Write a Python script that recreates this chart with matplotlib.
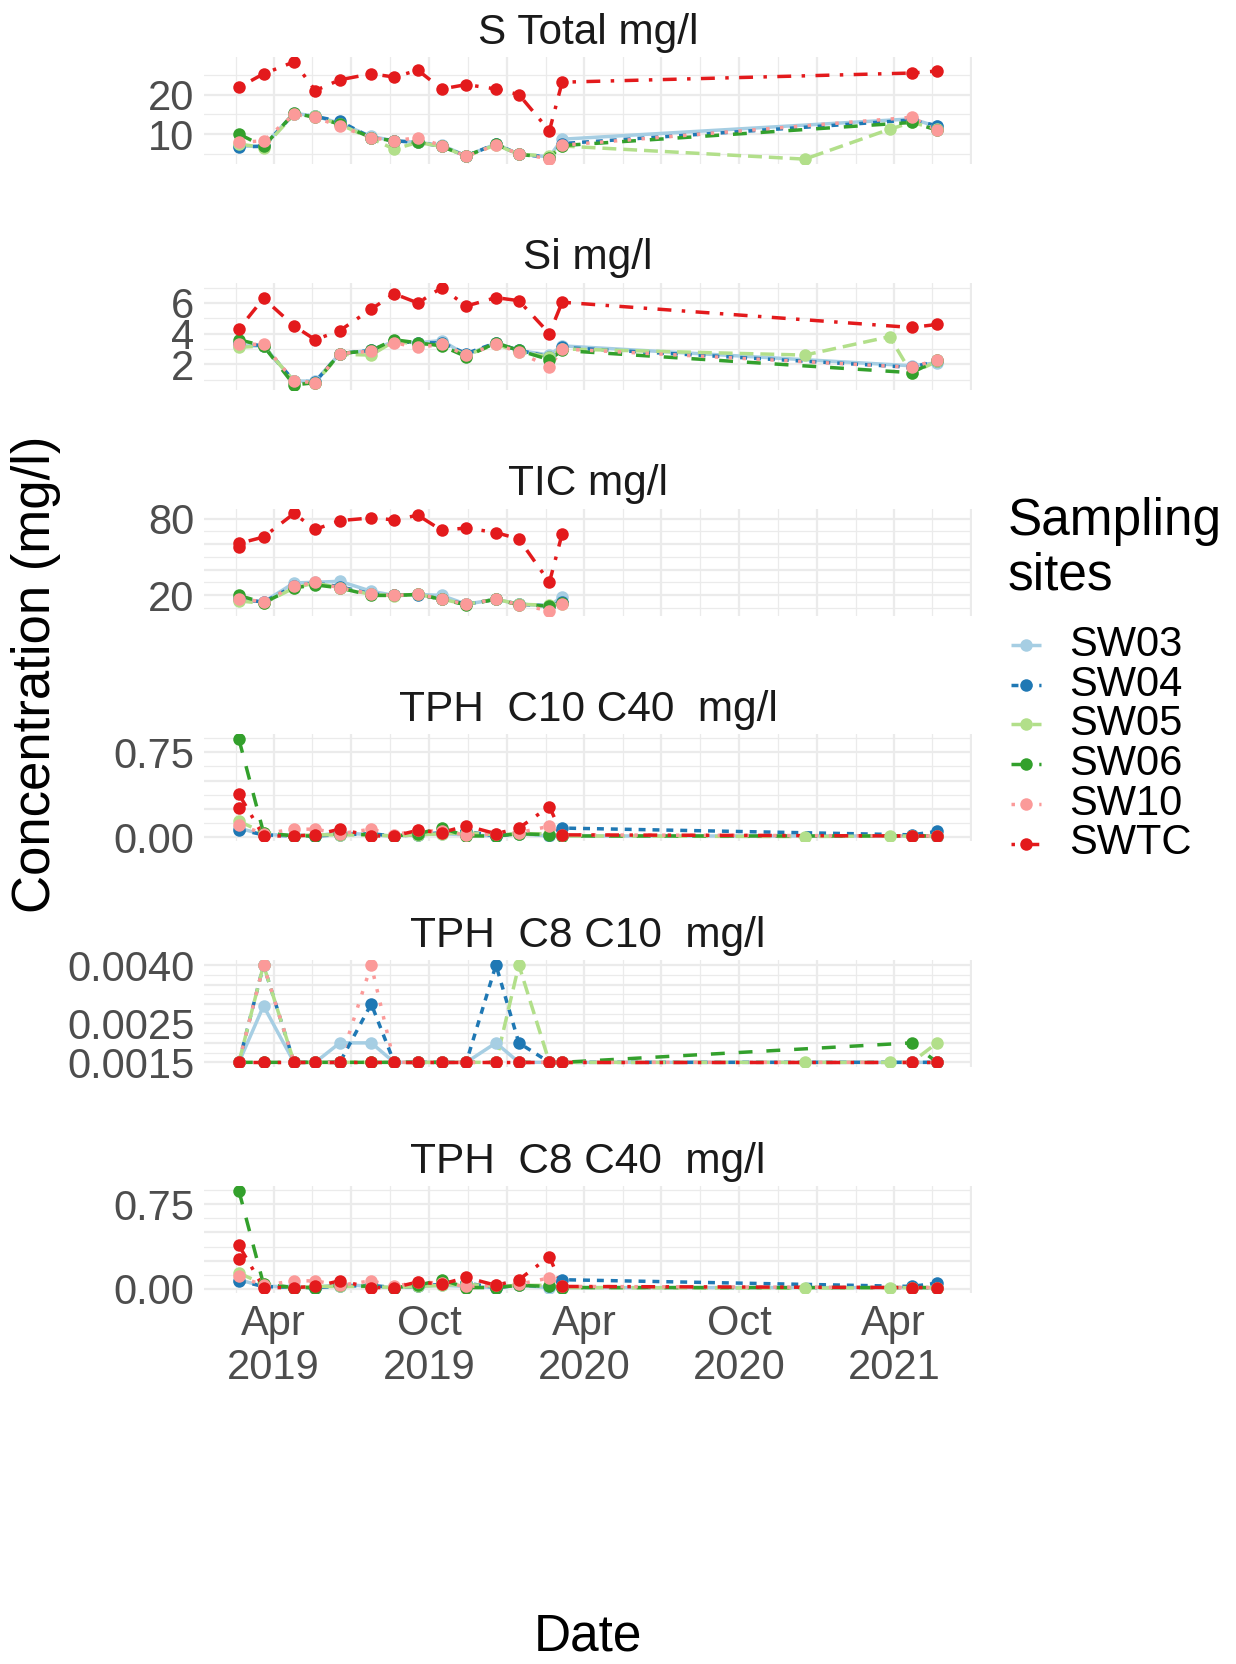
import numpy as np
import pandas as pd
import matplotlib
matplotlib.use('Agg')
import matplotlib.pyplot as plt
import matplotlib.dates as mdates
from matplotlib.lines import Line2D

plt.rcParams['font.family'] = ['Liberation Sans', 'DejaVu Sans']

# sampling dates (shared by all sites, None where a site was not sampled)
dates = pd.to_datetime([
    '2019-02-19', '2019-03-20', '2019-04-25', '2019-05-20', '2019-06-18',
    '2019-07-25', '2019-08-21', '2019-09-18', '2019-10-16', '2019-11-14',
    '2019-12-19', '2020-01-15', '2020-02-20', '2020-03-06', '2020-12-17',
    '2021-03-27', '2021-04-22', '2021-05-22'])

sites = ['SW03', 'SW04', 'SW05', 'SW06', 'SW10', 'SWTC']
colors = ['#A6CEE3', '#1F78B4', '#B2DF8A', '#33A02C', '#FB9A99', '#E31A1C']
dashes = [None, (2, 2), (4, 2), (4, 4), (1, 3), (1, 3, 4, 3)]

N = None

s_total = {
    'SW03': [7.0, 7.1, 15.3, 14.6, 12.8, 9.5, 8.4, 8.0, 7.3, 4.6, 7.6, 5.0, 4.4, 8.8, N, N, 13.9, 12.0],
    'SW04': [6.9, 7.0, 15.2, 14.5, 13.3, 9.2, 8.4, 8.0, 7.0, 4.6, 7.6, 5.0, 4.3, 7.7, N, N, 13.6, 12.2],
    'SW05': [7.6, 6.7, 15.0, 14.5, 12.5, 9.0, 6.3, 8.0, 7.0, 4.5, 7.4, 5.0, 4.6, 7.1, 3.8, 11.3, 13.0, 11.4],
    'SW06': [10.1, 7.0, 15.3, 14.3, 12.6, 9.2, 8.4, 8.0, 7.0, 4.6, 7.6, 5.0, 4.2, 7.2, N, N, 13.0, 11.1],
    'SW10': [8.0, 8.4, 15.0, 14.3, 12.0, 9.2, 8.4, 9.2, 7.2, 4.5, 7.4, 5.1, 3.9, 7.3, N, N, 14.3, 11.1],
    'SWTC': [21.8, 25.2, 28.2, 21.0, 23.7, 25.2, 24.4, 26.1, 21.4, 22.5, 21.4, 20.0, 10.9, 23.1, N, N, 25.4, 25.9],
}

si = {
    'SW03': [3.2, 3.2, 0.9, 0.9, 2.7, 2.9, 3.5, 3.4, 3.55, 2.6, 3.4, 2.9, 2.6, 3.2, N, N, 1.9, 2.1],
    'SW04': [3.4, 3.2, 0.9, 0.85, 2.7, 2.9, 3.5, 3.4, 3.4, 2.7, 3.4, 2.9, 2.5, 3.1, N, N, 1.8, 2.2],
    'SW05': [3.1, 3.2, 0.9, 0.8, 2.65, 2.6, 3.5, 3.3, 3.3, 2.6, 3.3, 2.8, 2.5, 3.0, 2.6, 3.8, 1.4, 2.2],
    'SW06': [3.6, 3.2, 0.65, 0.8, 2.7, 2.9, 3.6, 3.4, 3.2, 2.5, 3.4, 2.9, 2.3, 2.9, N, N, 1.45, 2.25],
    'SW10': [3.3, 3.3, 0.9, 0.8, 2.7, 2.85, 3.4, 3.1, 3.3, 2.6, 3.3, 2.8, 1.8, 3.0, N, N, 1.8, 2.3],
    'SWTC': [4.3, 6.3, 4.5, 3.6, 4.2, 5.6, 6.6, 6.0, 7.0, 5.8, 6.35, 6.15, 4.0, 6.05, N, N, 4.4, 4.6],
}

tic = {
    'SW03': [16.7, 14.5, 29.5, 30.0, 30.8, 23.0, 19.7, 20.5, 19.7, 12.8, 16.7, 12.8, 11.5, 18.7, N, N, N, N],
    'SW04': [17.0, 14.5, 27.0, 29.5, 26.5, 21.0, 19.7, 20.0, 17.0, 12.8, 16.7, 12.8, 11.5, 14.5, N, N, N, N],
    'SW05': [15.4, 13.5, 25.6, 29.5, 25.6, 20.5, 19.5, 20.5, 16.7, 12.8, 16.7, 12.8, 12.0, 13.0, N, N, N, N],
    'SW06': [19.7, 14.0, 25.6, 28.0, 25.6, 19.7, 19.7, 20.5, 16.7, 12.3, 16.7, 12.3, 11.5, 13.5, N, N, N, N],
    'SW10': [17.0, 14.8, 27.0, 30.0, 25.6, 21.0, 19.7, 20.5, 17.0, 12.8, 16.7, 12.5, 7.7, 13.0, N, N, N, N],
    'SWTC': [60.5, 65.5, 84.0, 71.5, 78.4, 80.5, 79.0, 82.6, 70.8, 72.6, 69.0, 64.0, 30.0, 68.0, N, N, N, N],
}

tph_c10_c40 = {
    'SW03': [0.08, 0.02, 0.02, 0.01, 0.04, 0.02, 0.01, 0.02, 0.03, 0.02, 0.01, 0.03, 0.01, 0.01, N, N, 0.01, 0.005],
    'SW04': [0.067, 0.02, 0.01, 0.01, 0.02, 0.03, 0.01, 0.02, 0.04, 0.05, 0.01, 0.03, 0.02, 0.08, N, N, 0.02, 0.05],
    'SW05': [0.14, 0.04, 0.01, 0.02, 0.02, 0.02, 0.01, 0.02, 0.03, 0.04, 0.02, 0.03, 0.03, 0.01, 0.005, 0.01, 0.01, 0.01],
    'SW06': [0.866, 0.04, 0.01, 0.01, 0.03, 0.02, 0.01, 0.03, 0.08, 0.01, 0.01, 0.03, 0.02, 0.01, N, N, 0.01, 0.01],
    'SW10': [0.11, 0.03, 0.07, 0.07, 0.03, 0.07, 0.02, 0.06, 0.05, 0.02, 0.03, 0.04, 0.096, 0.02, N, N, 0.01, 0.01],
    'SWTC': [0.38, 0.01, 0.01, 0.02, 0.07, 0.01, 0.01, 0.06, 0.04, 0.10, 0.03, 0.08, 0.27, 0.02, N, N, 0.01, 0.01],
}

tph_c8_c10 = {
    'SW03': [0.0015, 0.00295, 0.0015, 0.0015, 0.002, 0.002, 0.0015, 0.0015, 0.0015, 0.0015, 0.002, 0.0015, 0.0015, 0.0015, N, N, 0.0015, 0.0015],
    'SW04': [0.0015, 0.004, 0.0015, 0.0015, 0.0015, 0.003, 0.0015, 0.0015, 0.0015, 0.0015, 0.004, 0.002, 0.0015, 0.0015, N, N, 0.0015, 0.0015],
    'SW05': [0.0015, 0.004, 0.0015, 0.0015, 0.0015, 0.0015, 0.0015, 0.0015, 0.0015, 0.0015, 0.0015, 0.004, 0.0015, 0.0015, 0.0015, 0.0015, 0.0015, 0.002],
    'SW06': [0.0015, 0.0015, 0.0015, 0.0015, 0.0015, 0.0015, 0.0015, 0.0015, 0.0015, 0.0015, 0.0015, 0.0015, 0.0015, 0.0015, N, N, 0.002, 0.0015],
    'SW10': [0.0015, 0.004, 0.0015, 0.0015, 0.0015, 0.004, 0.0015, 0.0015, 0.0015, 0.0015, 0.0015, 0.0015, 0.0015, 0.0015, N, N, 0.0015, 0.0015],
    'SWTC': [0.0015, 0.0015, 0.0015, 0.0015, 0.0015, 0.0015, 0.0015, 0.0015, 0.0015, 0.0015, 0.0015, 0.0015, 0.0015, 0.0015, N, N, 0.0015, 0.0015],
}

tph_c8_c40 = {
    'SW03': [0.08, 0.02, 0.02, 0.01, 0.04, 0.02, 0.01, 0.02, 0.03, 0.02, 0.01, 0.03, 0.01, 0.01, N, N, 0.01, 0.005],
    'SW04': [0.07, 0.02, 0.01, 0.01, 0.02, 0.03, 0.01, 0.02, 0.04, 0.05, 0.01, 0.03, 0.02, 0.08, N, N, 0.02, 0.05],
    'SW05': [0.14, 0.04, 0.01, 0.02, 0.02, 0.02, 0.01, 0.02, 0.03, 0.04, 0.02, 0.03, 0.03, 0.01, 0.005, 0.01, 0.01, 0.01],
    'SW06': [0.87, 0.04, 0.01, 0.01, 0.03, 0.02, 0.01, 0.03, 0.08, 0.01, 0.01, 0.03, 0.02, 0.01, N, N, 0.01, 0.01],
    'SW10': [0.11, 0.03, 0.07, 0.07, 0.03, 0.07, 0.02, 0.06, 0.05, 0.02, 0.03, 0.04, 0.096, 0.02, N, N, 0.01, 0.01],
    'SWTC': [0.385, 0.01, 0.01, 0.02, 0.07, 0.01, 0.01, 0.06, 0.04, 0.10, 0.03, 0.08, 0.285, 0.02, N, N, 0.01, 0.01],
}

# SWTC had a second sample on the first date for some parameters
swtc_repeat = {'TIC mg/l': 57.5, 'TPH  C10 C40  mg/l': 0.256, 'TPH  C8 C40  mg/l': 0.265}

panels = [
    ('S Total mg/l', s_total),
    ('Si mg/l', si),
    ('TIC mg/l', tic),
    ('TPH  C10 C40  mg/l', tph_c10_c40),
    ('TPH  C8 C10  mg/l', tph_c8_c10),
    ('TPH  C8 C40  mg/l', tph_c8_c40),
]

# y breaks per facet: majors, minors, labels kept after overlap check
ybreaks = {
    'S Total mg/l': ([10, 20], [5, 15, 25], ['10', '20']),
    'Si mg/l': ([2, 4, 6], [1, 3, 5, 7], ['2', '4', '6']),
    'TIC mg/l': ([20, 40, 60, 80], [10, 30, 50, 70], ['20', '', '', '80']),
    'TPH  C10 C40  mg/l': ([0, 0.25, 0.5, 0.75], [0.125, 0.375, 0.625, 0.875], ['0.00', '', '', '0.75']),
    'TPH  C8 C10  mg/l': ([0.0015, 0.002, 0.0025, 0.003, 0.0035, 0.004],
                          [0.00175, 0.00225, 0.00275, 0.00325, 0.00375],
                          ['0.0015', '', '0.0025', '', '', '0.0040']),
    'TPH  C8 C40  mg/l': ([0, 0.25, 0.5, 0.75], [0.125, 0.375, 0.625, 0.875], ['0.00', '', '', '0.75']),
}

W, H = 1236, 1664
fig = plt.figure(figsize=(W / 100, H / 100), dpi=100)
fig.patch.set_facecolor('white')

LW = 2.5
MS = 9
grid_col = '#EBEBEB'

xnum = mdates.date2num(dates.to_pydatetime())
span = xnum.max() - xnum.min()
xlim = (xnum.min() - 0.05 * span, xnum.max() + 0.05 * span)

quarters = pd.date_range('2018-10-01', '2021-10-01', freq='QS')
qnum = mdates.date2num(quarters.to_pydatetime())
xmajor = [q for q in qnum if xlim[0] <= q <= xlim[1]]
xminor = [(a + b) / 2 for a, b in zip(qnum[:-1], qnum[1:]) if xlim[0] <= (a + b) / 2 <= xlim[1]]
xlabels = []
for q in xmajor:
    d = mdates.num2date(q)
    xlabels.append(d.strftime('%b\n%Y') if d.month in (4, 10) else '')

axes = []
for i, (title, data) in enumerate(panels):
    top = 57 + 225.8 * i
    ax = fig.add_axes([204 / W, 1 - (top + 107) / H, 768 / W, 107 / H])
    axes.append(ax)

    series = []
    for site, col, ds in zip(sites, colors, dashes):
        y = np.array(data[site], dtype=float)
        x = xnum.copy()
        if site == 'SWTC' and title in swtc_repeat:
            x = np.insert(x, 0, x[0])
            y = np.insert(y, 0, swtc_repeat[title])
        ok = ~np.isnan(y)
        series.append((x[ok], y[ok], col, ds))

    # lines first, then points (as in the layered original)
    for x, y, col, ds in series:
        ln, = ax.plot(x, y, color=col, lw=LW, zorder=2, solid_capstyle='butt')
        if ds:
            ln.set_dashes(ds)
    for x, y, col, ds in series:
        ax.plot(x, y, 'o', color=col, ms=MS, mew=0, zorder=3)

    ax.set_xlim(xlim)
    major, minor, labels = ybreaks[title]
    ax.set_yticks(major)
    ax.set_yticks(minor, minor=True)
    ax.set_yticklabels(labels)
    ax.set_xticks(xmajor)
    ax.set_xticks(xminor, minor=True)
    if i == len(panels) - 1:
        ax.set_xticklabels(xlabels)
        for lbl in ax.get_xticklabels():
            lbl.set_linespacing(1.12)
    else:
        ax.tick_params(axis='x', labelbottom=False)

    ax.grid(which='major', color=grid_col, lw=1.6, zorder=0)
    ax.grid(which='minor', color=grid_col, lw=0.9, zorder=0)
    ax.set_axisbelow(True)
    for s in ax.spines.values():
        s.set_visible(False)
    ax.tick_params(which='both', length=0, labelsize=30, labelcolor='#4D4D4D')
    ax.tick_params(axis='y', pad=7)
    ax.tick_params(axis='x', pad=8)
    ax.set_facecolor('none')

    ax.annotate(title, xy=(0.5, 1), xycoords='axes fraction', xytext=(0, 17.5),
                textcoords='offset points', ha='center', va='center',
                fontsize=30.5, color='#1A1A1A')

fig.text(36 / W, 1 - 674 / H, 'Concentration (mg/l)', rotation=90,
         ha='center', va='center', fontsize=38)
fig.text(588 / W, 1 - 1637 / H, 'Date', ha='center', va='center', fontsize=37)

# legend
fig.text(1008 / W, 1 - 549 / H, 'Sampling\nsites', ha='left', va='center',
         fontsize=37, linespacing=1.15)
for k, (site, col, ds) in enumerate(zip(sites, colors, dashes)):
    yk = 1 - (645 + 39.7 * k) / H
    key = Line2D([1011 / W, 1041 / W], [yk, yk], transform=fig.transFigure,
                 color=col, lw=LW, solid_capstyle='butt')
    if ds:
        key.set_dashes(ds)
    fig.add_artist(key)
    fig.add_artist(Line2D([1026 / W], [yk], transform=fig.transFigure,
                          marker='o', ms=MS, mew=0, color=col, ls='none'))
    fig.text(1069 / W, yk, site, ha='left', va='center', fontsize=30)

fig.savefig('out.png', dpi=100)
